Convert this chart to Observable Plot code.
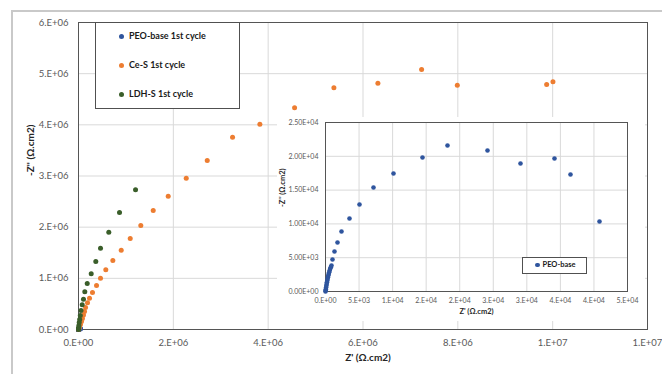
<!DOCTYPE html>
<html>
<head>
<meta charset="utf-8">
<script src="https://cdn.jsdelivr.net/npm/d3@7"></script>
<script src="https://cdn.jsdelivr.net/npm/@observablehq/plot@0.6"></script>
<style>
  body { margin: 0; background: #fff; font-family: Lato, "Open Sans", sans-serif; }
  #wrap { position: relative; width: 662px; height: 374px; overflow: hidden; background: #fff; }
  #border { position: absolute; left: 11px; top: 10px; right: -5px; bottom: -5px; border-left: 2px solid #c9c9c9; border-top: 2px solid #c9c9c9; }
  #main { position: absolute; left: 0; top: 0; }
  #inset { position: absolute; left: 277px; top: 117px; }
  .legend { position: absolute; background: #fff; border: 1px solid #505050; box-sizing: border-box; font-weight: bold; color: #1a1a1a; }
  .legend .row { position: absolute; white-space: nowrap; }
  .legend .dot { display: inline-block; border-radius: 50%; vertical-align: middle; }
</style>
</head>
<body>
<div id="wrap">
  <div id="border"></div>
  <div id="main"></div>
  <div id="inset"></div>
  <div id="legendMain" class="legend" style="left:95px;top:22px;width:145px;height:87px;"></div>
  <div id="legendInset" class="legend" style="left:522px;top:257px;width:65px;height:17px;"></div>
</div>
<script>
// ---------- data ----------
const seriesNames = ["PEO-base 1st cycle", "Ce-S 1st cycle", "LDH-S 1st cycle"];
const seriesColors = ["#2f559e", "#ed7d31", "#3a5e2a"];
const insetSeriesName = "PEO-base";

// PEO-base (Z', -Z'') in ohm.cm2
const peoZre = [0, 20, 50, 90, 130, 170, 210, 260, 310, 360, 420, 480, 550, 620, 700, 790,
  894, 1043, 1341, 1788, 2384, 3576, 5066, 7152, 10132, 14453, 18178, 24138, 29055, 34121, 36505, 40826];
const peoZim = [0, 150, 350, 600, 850, 1100, 1350, 1600, 1850, 2100, 2350, 2600, 2850, 3100, 3350, 3600,
  3845, 4733, 5916, 7247, 8874, 10797, 12867, 15382, 17452, 19819, 21593, 20854, 18931, 19671, 17304, 10353];

// Ce-S
const ceZre = [0, 10000, 21000, 42000, 63000, 84000, 105000, 127000, 148000, 190000, 232000, 295000, 380000, 464000,
  576000, 724000, 901000, 1091000, 1314000, 1576000, 1892000, 2272000, 2715000, 3249000, 3825000, 4557000,
  5386000, 6314000, 7236000, 7989000, 9873000, 10006000];
const ceZim = [0, 10000, 49000, 98000, 156000, 215000, 283000, 352000, 430000, 522000, 612000, 723000, 860000, 1003000,
  1167000, 1348000, 1549000, 1778000, 2032000, 2326000, 2605000, 2957000, 3303000, 3758000, 4012000, 4333000,
  4724000, 4813000, 5081000, 4774000, 4788000, 4841000];

// LDH-S
const ldhZre = [0, 1000, 4000, 8000, 15000, 25000, 38000, 53000, 78000, 105000, 133000, 184000, 268000, 365000,
  464000, 639000, 865000, 1203000];
const ldhZim = [0, 10000, 39000, 78000, 137000, 195000, 274000, 371000, 483000, 592000, 737000, 899000, 1088000, 1329000,
  1589000, 1902000, 2287000, 2730000];

// axes
const xTicks = [0, 2e6, 4e6, 6e6, 8e6, 1e7, 1.2e7];
const xTickLabels = ["0.E+00", "2.E+06", "4.E+06", "6.E+06", "8.E+06", "1.E+07", "1.E+07"];
const yTicks = [0, 1e6, 2e6, 3e6, 4e6, 5e6, 6e6];
const yTickLabels = ["0.E+00", "1.E+06", "2.E+06", "3.E+06", "4.E+06", "5.E+06", "6.E+06"];
const insetXTicks = [0, 5000, 10000, 15000, 20000, 25000, 30000, 35000, 40000, 45000];
const insetXTickLabels = ["0.E+00", "5.E+03", "1.E+04", "2.E+04", "2.E+04", "3.E+04", "3.E+04", "4.E+04", "4.E+04", "5.E+04"];
const insetYTicks = [0, 5000, 10000, 15000, 20000, 25000];
const insetYTickLabels = ["0.00E+00", "5.00E+03", "1.00E+04", "1.50E+04", "2.00E+04", "2.50E+04"];
const xTitle = "Z' (Ω.cm2)";
const yTitle = "-Z'' (Ω.cm2)";

// ---------- build ----------
const toRows = (xs, ys) => xs.map((x, i) => ({x, y: ys[i]}));
const peo = toRows(peoZre, peoZim);
const ce = toRows(ceZre, ceZim);
const ldh = toRows(ldhZre, ldhZim);
const fmt = (ticks, labels) => { const m = new Map(ticks.map((t, i) => [t, labels[i]])); return d => m.get(d); };

const grid = "#d9d9d9";
const tickColor = "#595959";

const main = Plot.plot({
  width: 662, height: 374,
  marginLeft: 78, marginRight: 15, marginTop: 22, marginBottom: 45,
  style: {fontFamily: "Lato, sans-serif", fontSize: "9.5px", color: tickColor, background: "transparent"},
  x: {domain: [0, 1.2e7], axis: null},
  y: {domain: [0, 6e6], axis: null},
  marks: [
    Plot.gridX(xTicks, {stroke: grid, strokeOpacity: 1}),
    Plot.gridY(yTicks, {stroke: grid, strokeOpacity: 1}),
    Plot.frame({stroke: "#555"}),
    Plot.axisX(xTicks, {tickSize: 0, tickPadding: 10, tickFormat: fmt(xTicks, xTickLabels), label: null}),
    Plot.axisY(yTicks, {tickSize: 0, tickPadding: 10, tickFormat: fmt(yTicks, yTickLabels), label: null}),
    Plot.dot(peo, {x: "x", y: "y", r: 2.5, fill: seriesColors[0], stroke: null}),
    Plot.dot(ce, {x: "x", y: "y", r: 2.5, fill: seriesColors[1], stroke: null}),
    Plot.dot(ldh, {x: "x", y: "y", r: 2.5, fill: seriesColors[2], stroke: null}),
    Plot.text([xTitle], {frameAnchor: "bottom", dy: 31, dx: 5, fontWeight: "bold", fontSize: 10, fill: "#262626"}),
    Plot.text([yTitle], {frameAnchor: "left", rotate: -90, dx: -48, fontWeight: "bold", fontSize: 10, fill: "#262626"})
  ]
});
document.getElementById("main").appendChild(main);

const inset = Plot.plot({
  width: 368, height: 204,
  marginLeft: 48, marginRight: 18, marginTop: 5, marginBottom: 30,
  style: {fontFamily: "Lato, sans-serif", fontSize: "7px", color: tickColor, background: "#fff"},
  x: {domain: [0, 45000], axis: null},
  y: {domain: [0, 25000], axis: null},
  marks: [
    Plot.gridX(insetXTicks, {stroke: grid, strokeOpacity: 1}),
    Plot.gridY(insetYTicks, {stroke: grid, strokeOpacity: 1}),
    Plot.frame({stroke: "#555"}),
    Plot.axisX(insetXTicks, {tickSize: 0, tickPadding: 7, tickFormat: fmt(insetXTicks, insetXTickLabels), label: null}),
    Plot.axisY(insetYTicks, {tickSize: 0, tickPadding: 7, tickFormat: fmt(insetYTicks, insetYTickLabels), label: null}),
    Plot.dot(peo, {x: "x", y: "y", r: 2.3, fill: seriesColors[0], stroke: null}),
    Plot.text([xTitle], {frameAnchor: "bottom", dy: 22, fontWeight: "bold", fontSize: 7.5, fill: "#262626"}),
    Plot.text([yTitle], {frameAnchor: "left", rotate: -90, dx: -43, fontWeight: "bold", fontSize: 7.5, fill: "#262626"})
  ]
});
document.getElementById("inset").appendChild(inset);

// legends
const lm = document.getElementById("legendMain");
seriesNames.forEach((name, i) => {
  const row = document.createElement("div");
  row.className = "row";
  row.style.left = "23px";
  row.style.top = (7 + i * 29) + "px";
  row.style.fontSize = "9px";
  row.innerHTML = `<span class="dot" style="width:5px;height:5px;background:${seriesColors[i]};margin-right:5px"></span>${name}`;
  lm.appendChild(row);
});
const li = document.getElementById("legendInset");
const r2 = document.createElement("div");
r2.className = "row";
r2.style.left = "12px";
r2.style.top = "2px";
r2.style.fontSize = "7.5px";
r2.innerHTML = `<span class="dot" style="width:4.5px;height:4.5px;background:${seriesColors[0]};margin-right:3px"></span>${insetSeriesName}`;
li.appendChild(r2);
</script>
</body>
</html>
